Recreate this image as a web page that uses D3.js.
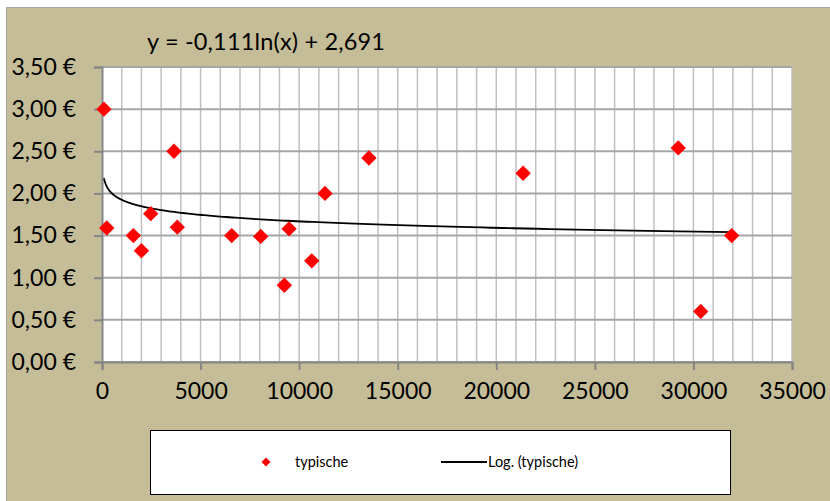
<!DOCTYPE html>
<html>
<head>
<meta charset="utf-8">
<script src="https://cdn.jsdelivr.net/npm/d3@7"></script>
<style>
  html, body { margin: 0; padding: 0; background: #ffffff; }
  svg { display: block; font-family: Lato, "Open Sans", sans-serif; }
</style>
</head>
<body>
<svg id="chart" width="830" height="501"></svg>
<script>
// ---- data ----
const xValues = [100, 240, 1590, 2000, 2470, 3650, 3820, 6580, 8050, 9250, 9490, 10640, 11310, 13540, 21360, 29230, 30370, 31940];
const yValues = [3.00, 1.59, 1.50, 1.32, 1.76, 2.50, 1.60, 1.50, 1.49, 0.91, 1.58, 1.20, 2.00, 2.42, 2.24, 2.54, 0.60, 1.50];
const trendCoef = [-0.111, 2.691]; // y = a*ln(x) + b
const yTickValues = [0, 0.5, 1, 1.5, 2, 2.5, 3, 3.5];
const xTickValues = [0, 5000, 10000, 15000, 20000, 25000, 30000, 35000];
const seriesName = "typische";
const trendName = "Log. (typische)";
const equationLabel = "y = -0,111ln(x) + 2,691";

const svg = d3.select("#chart");
const W = 830, H = 501;
const plot = { left: 102, top: 67, right: 792, bottom: 362 };

// outer chart area
svg.append("rect").attr("x", 6.5).attr("y", 7.5).attr("width", W).attr("height", H)
  .attr("fill", "#C4BD97").attr("stroke", "#A6A6A6").attr("stroke-width", 1);

const x = d3.scaleLinear().domain([0, 35000]).range([plot.left, plot.right]);
const y = d3.scaleLinear().domain([0, 3.5]).range([plot.bottom, plot.top]);

// plot background
svg.append("rect").attr("x", plot.left).attr("y", plot.top)
  .attr("width", plot.right - plot.left).attr("height", plot.bottom - plot.top)
  .attr("fill", "#ffffff");

// vertical gridlines every 1000
const vGrid = d3.range(0, 35001, 1000);
svg.append("g").selectAll("line").data(vGrid).join("line")
  .attr("x1", d => x(d)).attr("x2", d => x(d))
  .attr("y1", plot.top).attr("y2", plot.bottom)
  .attr("stroke", "#BFBFBF").attr("stroke-width", 1.5);

// horizontal gridlines
svg.append("g").selectAll("line").data(yTickValues).join("line")
  .attr("x1", plot.left).attr("x2", plot.right)
  .attr("y1", d => y(d)).attr("y2", d => y(d))
  .attr("stroke", "#A6A6A6").attr("stroke-width", 2);

// y axis
const yAxis = d3.axisLeft(y).tickValues(yTickValues).tickSize(8).tickPadding(18)
  .tickFormat(d => d3.format(".2f")(d).replace(".", ",") + " €");
const gy = svg.append("g").attr("transform", `translate(${plot.left},0)`).call(yAxis);
gy.select(".domain").attr("stroke", "#868686").attr("stroke-width", 2);
gy.selectAll(".tick line").attr("stroke", "#868686").attr("stroke-width", 2);
gy.selectAll(".tick text").attr("font-size", 23).attr("fill", "#000").attr("font-family", "Lato");

// x axis
const xAxis = d3.axisBottom(x).tickValues(xTickValues).tickSize(8).tickPadding(13)
  .tickFormat(d3.format("d"));
const gx = svg.append("g").attr("transform", `translate(0,${plot.bottom})`).call(xAxis);
gx.select(".domain").attr("stroke", "#868686").attr("stroke-width", 2);
gx.selectAll(".tick line").attr("stroke", "#868686").attr("stroke-width", 2);
gx.selectAll(".tick text").attr("font-size", 23).attr("fill", "#000").attr("font-family", "Lato");

// trendline
const xMin = d3.min(xValues), xMax = d3.max(xValues);
const trendPts = d3.range(0, 401).map(i => {
  const t = i / 400;
  const xv = xMin * Math.pow(xMax / xMin, t * t);
  return [xv, trendCoef[0] * Math.log(xv) + trendCoef[1]];
});
svg.append("path").datum(trendPts)
  .attr("fill", "none").attr("stroke", "#000").attr("stroke-width", 1.8)
  .attr("d", d3.line().x(d => x(d[0])).y(d => y(d[1])));

// markers (diamonds)
const diamond = d3.symbol().type(d3.symbolSquare).size(118);
svg.append("g").selectAll("path").data(xValues.map((v, i) => [v, yValues[i]])).join("path")
  .attr("d", diamond)
  .attr("transform", d => `translate(${x(d[0])},${y(d[1])}) rotate(45)`)
  .attr("fill", "#FF0000");

// equation label
svg.append("text").attr("x", 147).attr("y", 49.5)
  .attr("font-size", 23.5).attr("fill", "#000")
  .attr("textLength", 238).attr("lengthAdjust", "spacing")
  .text(equationLabel);

// legend
svg.append("rect").attr("x", 150.5).attr("y", 430.5).attr("width", 580).attr("height", 64)
  .attr("fill", "#fff").attr("stroke", "#000").attr("stroke-width", 1);
svg.append("path").attr("d", d3.symbol().type(d3.symbolSquare).size(40))
  .attr("transform", "translate(266,462) rotate(45)").attr("fill", "#FF0000");
svg.append("text").attr("x", 295).attr("y", 467).attr("font-size", 14.5).attr("fill", "#000").text(seriesName);
svg.append("line").attr("x1", 441).attr("x2", 487).attr("y1", 462).attr("y2", 462)
  .attr("stroke", "#000").attr("stroke-width", 1.8);
svg.append("text").attr("x", 488).attr("y", 467).attr("font-size", 14.5).attr("fill", "#000").text(trendName);
</script>
</body>
</html>
